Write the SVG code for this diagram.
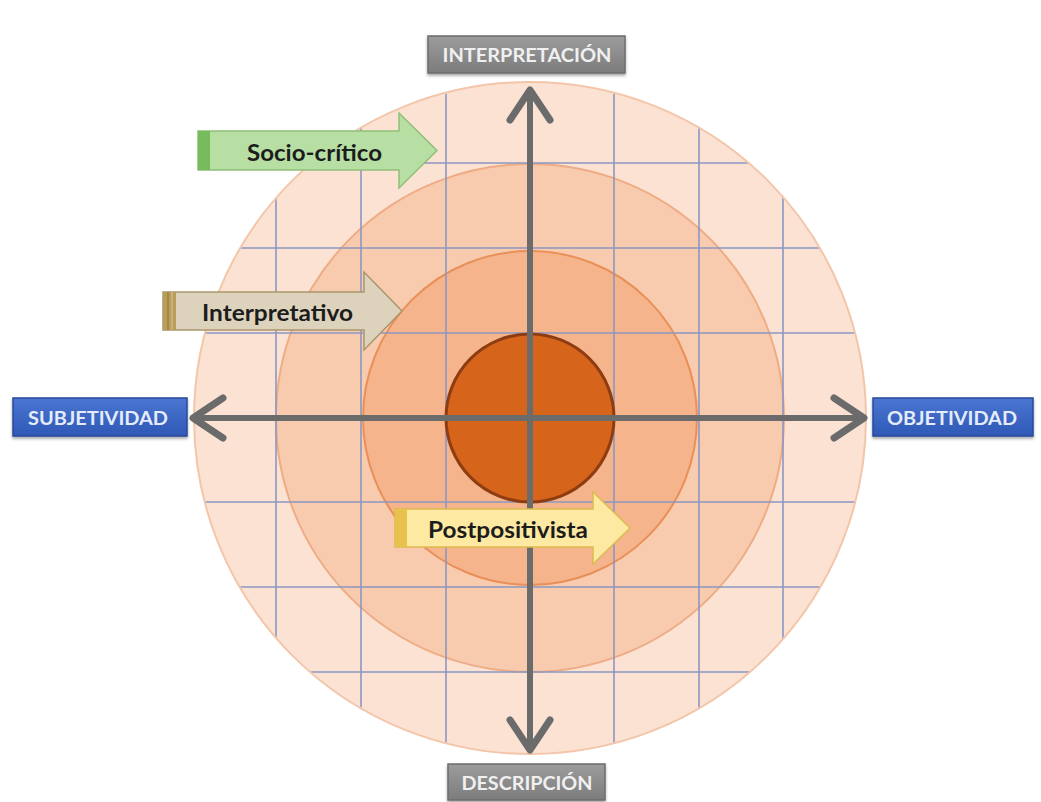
<svg xmlns="http://www.w3.org/2000/svg" width="1041" height="802" viewBox="0 0 1041 802">
<style>
.grid line{stroke:#8b97c2;stroke-width:1.6}
.axis{stroke:#6b6b6b;stroke-width:6;fill:none}
.lblg{fill:url(#gGray);stroke:#6c6c6c;stroke-width:1.5;filter:url(#sh)}
.lblb{fill:url(#gBlue);stroke:#284a9c;stroke-width:1.5;filter:url(#sh)}
.lt{font-family:Lato,"Liberation Sans",sans-serif;font-weight:bold;font-size:19px;text-anchor:middle}
.tg{fill:#f0f0f0}
.tb{fill:#e4ecfa}
.at{font-family:Lato,"Liberation Sans",sans-serif;font-weight:bold;font-size:23px;fill:#1c1c1c}
</style>
<defs>
<linearGradient id="gGray" x1="0" y1="0" x2="0" y2="1"><stop offset="0" stop-color="#9c9c9c"/><stop offset="1" stop-color="#7c7c7c"/></linearGradient>
<linearGradient id="gBlue" x1="0" y1="0" x2="0" y2="1"><stop offset="0" stop-color="#4b76d2"/><stop offset="1" stop-color="#2f58b6"/></linearGradient>
<filter id="sh" x="-10%" y="-20%" width="120%" height="160%"><feDropShadow dx="0" dy="2" stdDeviation="1.5" flood-color="#000" flood-opacity="0.35"/></filter>
<clipPath id="cc"><circle cx="530" cy="418" r="335"/></clipPath>
<marker id="chev" markerUnits="userSpaceOnUse" viewBox="0 0 44 50" markerWidth="44" markerHeight="50" refX="36" refY="25" orient="auto-start-reverse" overflow="visible">
<path d="M6,5 L36,25 L6,45" fill="none" stroke="#6b6b6b" stroke-width="7" stroke-linecap="round" stroke-linejoin="round"/>
</marker>
</defs>
<rect width="1041" height="802" fill="#ffffff"/>
<g id="rings">
<circle cx="530" cy="418" r="336" fill="#fce2d3" stroke="#f3c6aa" stroke-width="2"/>
<circle cx="530" cy="418" r="254" fill="#f8cbae" stroke="#eeac84" stroke-width="2"/>
<circle cx="530" cy="418" r="167" fill="#f5b48b" stroke="#e98f58" stroke-width="2"/>
</g>
<g class="grid" clip-path="url(#cc)">
<line x1="190" y1="163" x2="870" y2="163"/>
<line x1="190" y1="248" x2="870" y2="248"/>
<line x1="190" y1="333" x2="870" y2="333"/>
<line x1="190" y1="502" x2="870" y2="502"/>
<line x1="190" y1="587" x2="870" y2="587"/>
<line x1="190" y1="672" x2="870" y2="672"/>
<line x1="276" y1="80" x2="276" y2="760"/>
<line x1="361" y1="80" x2="361" y2="760"/>
<line x1="446" y1="80" x2="446" y2="760"/>
<line x1="614" y1="80" x2="614" y2="760"/>
<line x1="699" y1="80" x2="699" y2="760"/>
<line x1="783" y1="80" x2="783" y2="760"/>
</g>
<g id="core">
<circle cx="530" cy="418" r="84" fill="#d6641b" stroke="#8e3c12" stroke-width="3"/>
</g>
<g id="connectors">
<line class="axis" x1="530" y1="90" x2="530" y2="750" marker-start="url(#chev)" marker-end="url(#chev)"/>
<line class="axis" x1="193" y1="418" x2="864" y2="418" marker-start="url(#chev)" marker-end="url(#chev)"/>
</g>
<g id="interpretacion">
<rect class="lblg" x="428" y="36" width="197" height="37"/>
<text class="lt tg" x="527" y="62" textLength="169" lengthAdjust="spacingAndGlyphs">INTERPRETACIÓN</text>
</g>
<g id="descripcion">
<rect class="lblg" x="448" y="764" width="157" height="36"/>
<text class="lt tg" x="527" y="790" textLength="131" lengthAdjust="spacingAndGlyphs">DESCRIPCIÓN</text>
</g>
<g id="subjetividad">
<rect class="lblb" x="13" y="398" width="174" height="38"/>
<text class="lt tb" x="98" y="425" textLength="140" lengthAdjust="spacingAndGlyphs">SUBJETIVIDAD</text>
</g>
<g id="objetividad">
<rect class="lblb" x="873" y="398" width="160" height="38"/>
<text class="lt tb" x="952" y="425" textLength="130" lengthAdjust="spacingAndGlyphs">OBJETIVIDAD</text>
</g>
<g id="socio-critico">
<path d="M198,131 H399 V113 L437,150.5 L399,188 V170 H198 Z" fill="#b8dfa3" stroke="#8fc077" stroke-width="1.5"/>
<rect x="198" y="131" width="12" height="39" fill="#78bb5c"/>
<text class="at" x="247" y="161" textLength="135" lengthAdjust="spacingAndGlyphs">Socio-crítico</text>
</g>
<g id="interpretativo">
<path d="M163,292 H364 V272 L402,311 L364,350 V330 H163 Z" fill="#ddd3bd" stroke="#a8966c" stroke-width="1.5"/>
<rect x="163" y="292" width="13" height="38" fill="#b99d5a"/>
<line x1="168" y1="292" x2="168" y2="330" stroke="#8c7338" stroke-width="1"/>
<line x1="172" y1="292" x2="172" y2="330" stroke="#d8c690" stroke-width="1"/>
<text class="at" x="202" y="321" textLength="151" lengthAdjust="spacingAndGlyphs">Interpretativo</text>
</g>
<g id="postpositivista">
<path d="M395,509 H593 V492 L630,528 L593,564 V547 H395 Z" fill="#fde9a2" stroke="#dcbb50" stroke-width="1.5"/>
<rect x="395" y="509" width="12" height="38" fill="#e8c24c"/>
<text class="at" x="428" y="538" textLength="160" lengthAdjust="spacingAndGlyphs">Postpositivista</text>
</g>
</svg>
